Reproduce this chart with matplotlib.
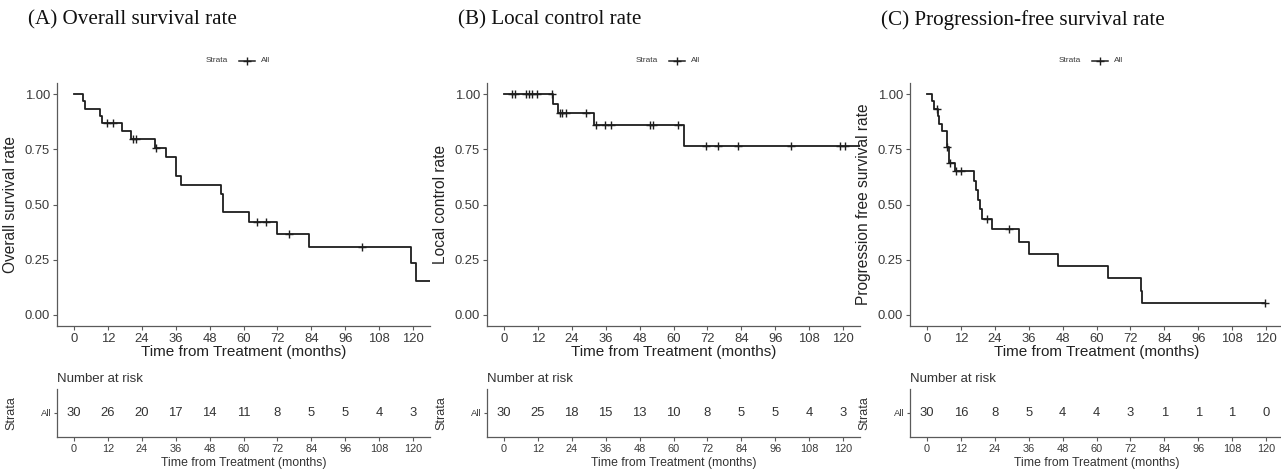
import numpy as np
import matplotlib
matplotlib.use("Agg")
import matplotlib.pyplot as plt
from matplotlib.lines import Line2D

plt.rcParams["font.family"] = ["Liberation Sans", "DejaVu Sans"]

# ---------------- data ----------------
titles = ["(A) Overall survival rate", "(B) Local control rate",
          "(C) Progression-free survival rate"]
ylabels = ["Overall survival rate", "Local control rate",
           "Progression free survival rate"]

A_times = [0, 3.2, 3.9, 9.1, 9.8, 16.9, 20.1, 28.7, 32.7, 36.1, 37.9, 52.2, 52.9,
           62.1, 72.0, 83.1, 119.1, 121.0]
A_surv = [1.00, 0.967, 0.933, 0.900, 0.867, 0.833, 0.796, 0.755, 0.714, 0.631,
          0.587, 0.547, 0.464, 0.420, 0.368, 0.307, 0.233, 0.155]
A_end = 126.0
A_censor = [11.8, 13.9, 20.8, 21.8, 29.0, 64.8, 68.0, 76.0, 102.1]

B_times = [0, 17.3, 19.2, 31.9, 63.8]
B_surv = [1.00, 0.956, 0.913, 0.862, 0.766]
B_end = 126.0
B_censor = [2.9, 3.8, 7.9, 8.8, 9.9, 11.8, 17.1, 19.7, 20.6, 21.8, 28.9, 32.6,
            35.8, 37.9, 51.7, 52.6, 61.6, 71.6, 75.7, 82.7, 101.7, 118.8, 120.8]

C_times = [0, 1.8, 2.6, 3.8, 4.4, 5.5, 7.0, 7.9, 9.9, 16.8, 17.3, 17.9, 18.7, 19.5,
           23.1, 32.4, 36.0, 46.5, 64.0, 75.8, 76.2]
C_surv = [1.00, 0.967, 0.933, 0.899, 0.865, 0.831, 0.761, 0.690, 0.650, 0.607,
          0.565, 0.522, 0.478, 0.435, 0.387, 0.331, 0.276, 0.221, 0.166, 0.110, 0.055]
C_end = 119.5
C_censor = [3.6, 7.1, 8.2, 10.2, 12.1, 21.1, 29.2, 119.5]

risk_times = [0, 12, 24, 36, 48, 60, 72, 84, 96, 108, 120]
A_risk = [30, 26, 20, 17, 14, 11, 8, 5, 5, 4, 3]
B_risk = [30, 25, 18, 15, 13, 10, 8, 5, 5, 4, 3]
C_risk = [30, 16, 8, 5, 4, 4, 3, 1, 1, 1, 0]

panels = [
    (A_times, A_surv, A_end, A_censor, A_risk),
    (B_times, B_surv, B_end, B_censor, B_risk),
    (C_times, C_surv, C_end, C_censor, C_risk),
]

# ---------------- layout ----------------
W, H = 1281, 471
fig = plt.figure(figsize=(W / 100, H / 100), dpi=100)
fig.patch.set_facecolor("white")

def pt(px):
    return px * 0.72

axis_col = "#5a5a5a"
txt_col = "#3a3a3a"
line_col = "#1e1e1e"

lefts = [57, 487, 910]
ax_w = 373
main_top, main_bot = 83, 326
risk_top, risk_bot = 389, 437
xlim = (-6, 126)
xticks = risk_times

def style(ax):
    for s in ["top", "right"]:
        ax.spines[s].set_visible(False)
    for s in ["left", "bottom"]:
        ax.spines[s].set_color(axis_col)
        ax.spines[s].set_linewidth(0.9)
    ax.tick_params(colors=axis_col, length=3, width=0.8)

for i, (times, surv, end, cens, risk) in enumerate(panels):
    L = lefts[i]
    ax = fig.add_axes([L / W, 1 - main_bot / H, ax_w / W, (main_bot - main_top) / H])
    style(ax)
    tx = list(times) + [end]
    sy = list(surv) + [surv[-1]]
    ax.step(tx, sy, where="post", color=line_col, lw=1.3, clip_on=True)
    idx = np.searchsorted(np.array(times), np.array(cens), side="right") - 1
    cy = np.array(surv)[idx]
    ax.plot(cens, cy, ls="none", marker="+", ms=6, mew=1.0, color=line_col)
    ax.set_xlim(*xlim)
    ax.set_ylim(-0.05, 1.05)
    ax.set_xticks(xticks)
    ax.set_xticklabels([str(t) for t in xticks])
    ax.set_yticks([0, 0.25, 0.5, 0.75, 1.0])
    ax.set_yticklabels(["0.00", "0.25", "0.50", "0.75", "1.00"])
    ax.tick_params(labelsize=pt(13), labelcolor=txt_col, pad=2)
    ax.set_xlabel("Time from Treatment (months)", fontsize=pt(15.3), color="#222222",
                  labelpad=0)
    ax.set_ylabel(ylabels[i], fontsize=pt(15.5), color="#222222")
    ax.yaxis.set_label_coords(-39 / ax_w, 0.5)

    # title
    fig.text((L - 29) / W, 1 - 20 / H, titles[i], family="Liberation Serif",
             fontsize=pt(21.2), va="center", ha="left", color="#111111")

    # legend "Strata + All"
    ly = 1 - 61 / H
    fig.text((L + 171) / W, ly, "Strata", fontsize=pt(8.3), ha="right", va="center",
             color=txt_col)
    fig.add_artist(Line2D([(L + 182) / W, (L + 198) / W], [ly, ly], color=line_col,
                          lw=1.1, transform=fig.transFigure))
    fig.add_artist(Line2D([(L + 190) / W], [ly], color=line_col, marker="+", ms=6,
                          mew=1.0, transform=fig.transFigure))
    fig.text((L + 204) / W, ly, "All", fontsize=pt(8.3), ha="left", va="center",
             color=txt_col)

    # risk table
    rax = fig.add_axes([L / W, 1 - risk_bot / H, ax_w / W, (risk_bot - risk_top) / H])
    style(rax)
    rax.set_xlim(*xlim)
    rax.set_ylim(0, 1)
    rax.set_xticks(xticks)
    rax.set_xticklabels([str(t) for t in xticks])
    rax.set_yticks([0.5])
    rax.set_yticklabels(["All"])
    rax.tick_params(axis="x", labelsize=pt(11), labelcolor=txt_col, pad=2)
    rax.tick_params(axis="y", labelsize=pt(9.5), labelcolor=txt_col, pad=1.5, length=2.5)
    for t, n in zip(risk_times, risk):
        rax.text(t, 0.5, str(n), ha="center", va="center", fontsize=pt(13),
                 color="#333333")
    rax.set_xlabel("Time from Treatment (months)", fontsize=pt(12.2), color="#333333",
                   labelpad=2.2)
    rax.set_ylabel("Strata", fontsize=pt(12.5), color="#333333")
    rax.yaxis.set_label_coords(-40 / ax_w, 0.5)
    rax.set_title("Number at risk", loc="left", fontsize=pt(13.2), color="#333333",
                  pad=5)

fig.savefig("out.png", dpi=100, facecolor="white")
